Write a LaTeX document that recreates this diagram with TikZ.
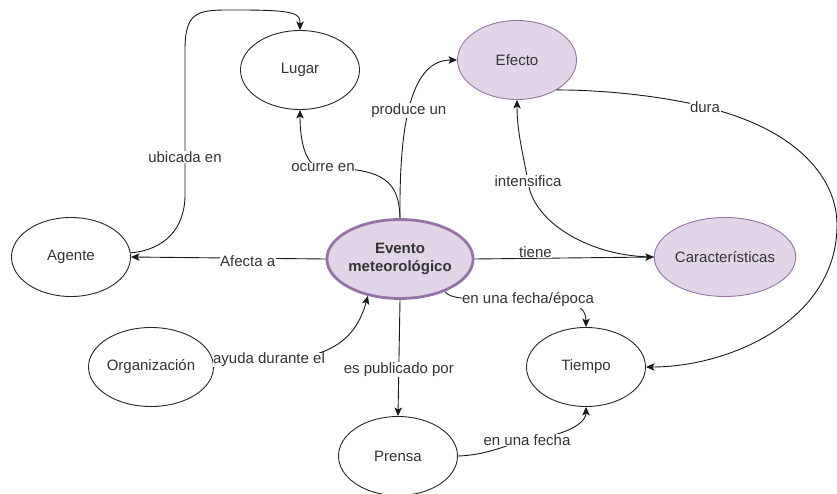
\documentclass[tikz,border=0pt]{standalone}
\usepackage{fontspec}
\setmainfont{Liberation Sans}
\usetikzlibrary{shapes.geometric,arrows.meta}
\definecolor{lila}{HTML}{E1D5E7}
\definecolor{lilaborde}{HTML}{9673A6}
\definecolor{texto}{HTML}{333333}

\tikzset{
	concepto/.style={ellipse, draw=black!85, line width=0.9pt, minimum width=119pt, minimum height=79pt, inner sep=0pt, text=texto, font=\fontsize{15}{17}\selectfont},
	destacado/.style={concepto, fill=lila, draw=lilaborde},
	enlace/.style={-{Stealth[length=8.5pt,width=7.5pt,inset=2pt]}, line width=0.9pt, draw=black!90},
	etiqueta/.style={fill=white, inner sep=0.5pt, text=texto, font=\fontsize{15}{17}\selectfont}
}

\begin{document}
\begin{tikzpicture}[x=1pt,y=-1pt]
			%%%%% START %%%%%
			\useasboundingbox (0,0) rectangle (837,494);
			
			\node[concepto] (lugar) at (300,70) {Lugar};
			\node[destacado] (efecto) at (517,60) {Efecto};
			\node[concepto] (agente) at (71,257) {Agente};
			\node[destacado, line width=2.8pt, minimum width=114pt, minimum height=79pt, align=center, font=\bfseries\fontsize{15}{18}\selectfont] (evento) at (400,259) {Evento\\meteorológico};
			\node[destacado] (caract) at (725,257) {Características};
			\node[concepto] (organizacion) at (151,367) {Organización};
			\node[concepto] (tiempo) at (586,367) {Tiempo};
			\node[concepto] (prensa) at (398,456) {Prensa};
			
			\draw[enlace] (agente.4) .. controls (165,250) and (185,228) .. (185,195) -- node[etiqueta, pos=0.26] {ubicada en} (185,50) .. controls (185,8) and (200,10) .. (240,10) .. controls (298,10) and (300,14) .. (lugar.north);
			\draw[enlace] (evento.north) .. controls (399,182) and (385,168) .. (323,168) node[etiqueta] {ocurre en} .. controls (305,168) and (300,140) .. (lugar.south);
			\draw[enlace] (evento.north) .. controls (399,120) and (412,60) .. node[etiqueta, pos=0.45] {produce un} (efecto.west);
			\draw[enlace] (caract.west) .. controls (590,257) and (532,222) .. (528,181) node[etiqueta] {intensifica} .. controls (522,150) and (517,130) .. (efecto.south);
			\draw[enlace] (evento.east) -- node[etiqueta, pos=0.34, yshift=6pt] {tiene} (caract.west);
			\draw[enlace] (evento.west) -- node[etiqueta, pos=0.4, yshift=-3pt] {Afecta a} (agente.east);
			\draw[enlace] (organizacion.east) .. controls (220,364) and (235,360) .. (269,360) node[etiqueta] {ayuda durante el} .. controls (335,360) and (357,335) .. (evento.-131);
			\draw[enlace] (evento.south) -- node[etiqueta, pos=0.6] {es publicado por} (prensa.north);
			\draw[enlace] (evento.-36) .. controls (450,298) and (460,300) .. (528,300) node[etiqueta] {en una fecha/época} .. controls (575,300) and (586,306) .. (tiempo.north);
			\draw[enlace] (prensa.east) .. controls (490,455) and (510,443) .. (527,440) node[etiqueta] {en una fecha} .. controls (575,434) and (586,420) .. (tiempo.south);
			\draw[enlace] (efecto.-37) .. controls (620,90) and (680,100) .. (705,107) node[etiqueta] {dura} .. controls (800,130) and (837,180) .. (837,225) .. controls (837,320) and (730,367) .. (tiempo.east);
			
			%%%%% END %%%%%
\end{tikzpicture}
\end{document}
